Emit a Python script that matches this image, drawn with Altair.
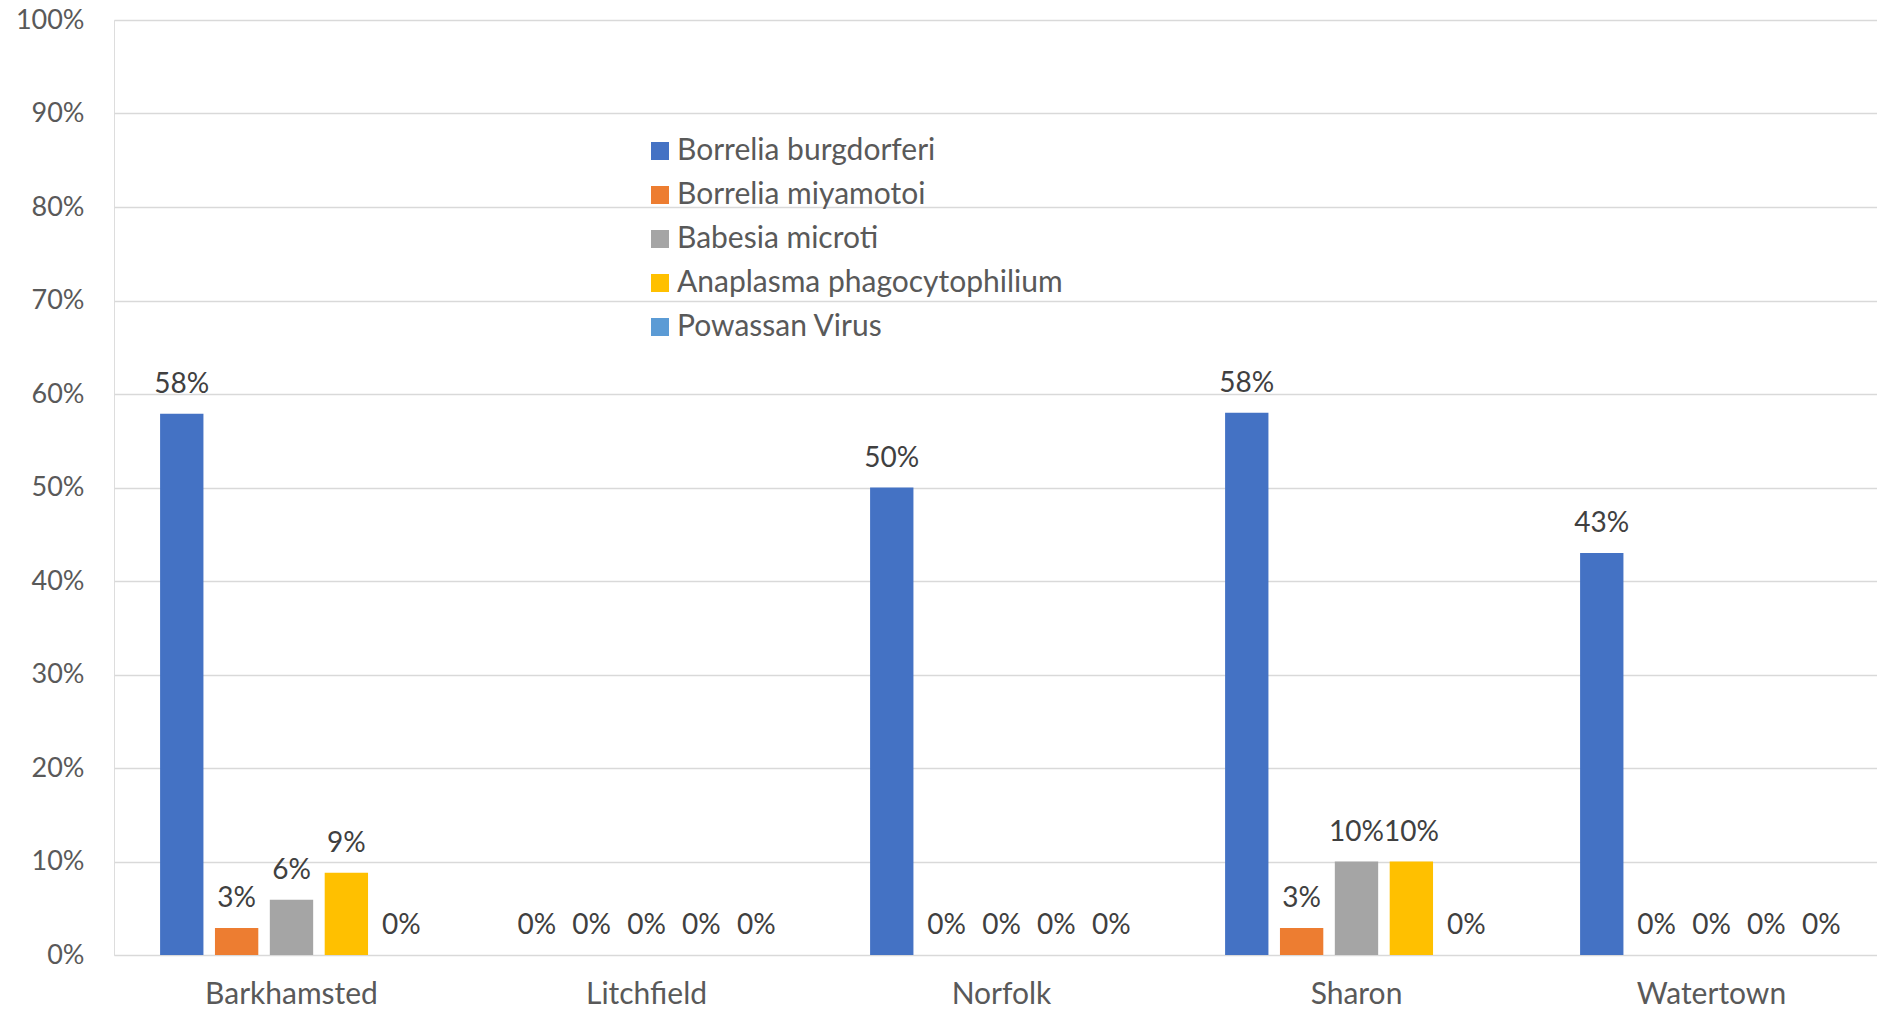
import altair as alt
import pandas as pd

towns = ["Barkhamsted", "Litchfield", "Norfolk", "Sharon", "Watertown"]
series = ["Borrelia burgdorferi", "Borrelia miyamotoi", "Babesia microti",
          "Anaplasma phagocytophilium", "Powassan Virus"]
colors = ["#4472C4", "#ED7D31", "#A5A5A5", "#FFC000", "#5B9BD5"]

burgdorferi = [0.579, 0.0, 0.50, 0.58, 0.43]
miyamotoi = [0.029, 0.0, 0.0, 0.029, 0.0]
microti = [0.059, 0.0, 0.0, 0.10, 0.0]
anaplasma = [0.088, 0.0, 0.0, 0.10, 0.0]
powassan = [0.0, 0.0, 0.0, 0.0, 0.0]

values = [burgdorferi, miyamotoi, microti, anaplasma, powassan]
rows = []
for s, vals in zip(series, values):
    for t, v in zip(towns, vals):
        rows.append({"Town": t, "Pathogen": s, "Value": v})
df = pd.DataFrame(rows)

FONT = "Lato"

x = alt.X("Town:N", sort=towns, title=None,
          scale=alt.Scale(paddingInner=0, paddingOuter=0),
          axis=alt.Axis(labelAngle=0, labelFontSize=30, labelColor="#595959",
                        labelFont=FONT, labelPadding=24, ticks=False, domain=False))
xo = alt.XOffset("Pathogen:N", sort=series,
                 scale=alt.Scale(paddingInner=0.21, paddingOuter=0.84))
y = alt.Y("Value:Q", title=None,
          scale=alt.Scale(domain=[0, 1]),
          axis=alt.Axis(format=".0%", values=[i / 10 for i in range(11)],
                        labelFontSize=27, labelColor="#595959", labelFont=FONT,
                        labelPadding=30, ticks=False, domain=False,
                        gridColor="#D9D9D9", gridWidth=1.5))

base = alt.Chart(df)

bars = base.mark_bar().encode(
    x=x, xOffset=xo, y=y,
    color=alt.Color("Pathogen:N", sort=series,
                    scale=alt.Scale(domain=series, range=colors),
                    legend=alt.Legend(title=None, orient="none", legendX=531, legendY=116,
                                      symbolType="square", symbolSize=324,
                                      symbolStrokeWidth=0,
                                      labelFontSize=30, labelFont=FONT,
                                      labelColor="#595959", rowPadding=14,
                                      labelOffset=2, labelLimit=700)),
)

labels = base.mark_text(fontSize=28, font=FONT, color="#404040",
                        baseline="middle", dy=-29).encode(
    x=x, xOffset=xo, y=y,
    text=alt.Text("Value:Q", format=".0%"),
)

chart = (bars + labels).properties(
    width=1775, height=935,
    autosize=alt.AutoSizeParams(type="none"),
    padding={"left": 106, "top": 12, "right": -12, "bottom": 53},
).configure_view(stroke=None).configure(background="white")

chart.save("out.html", embed_options={"renderer": "svg", "actions": False})
